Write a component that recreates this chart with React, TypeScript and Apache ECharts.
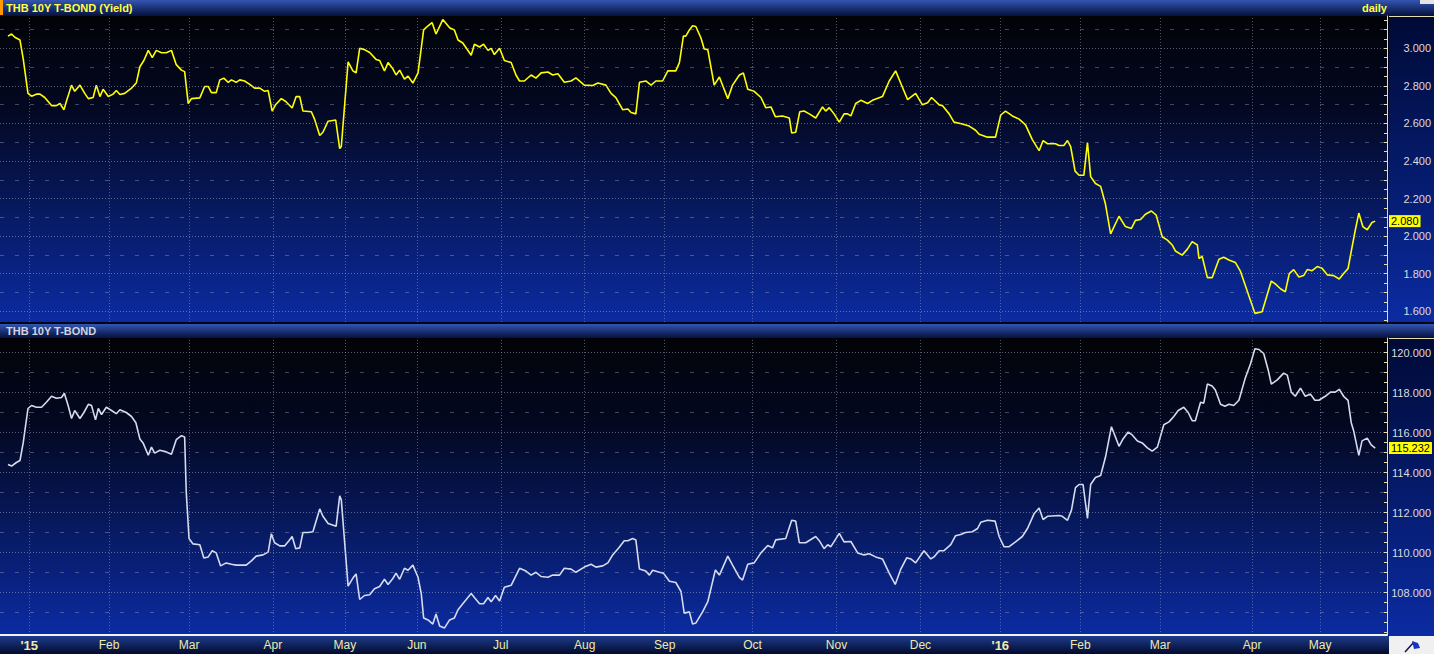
import React, { useEffect, useRef } from 'react';
import * as echarts from 'echarts';

// ---- x axis: trading-day index (0 = first trading day of Jan 2015) ----
const monthStarts = [0, 20, 40, 61, 79, 97, 118, 139, 159, 181, 202, 223, 243, 263, 283, 306, 323];
const monthLabels = ["'15", 'Feb', 'Mar', 'Apr', 'May', 'Jun', 'Jul', 'Aug', 'Sep', 'Oct', 'Nov', 'Dec', "'16", 'Feb', 'Mar', 'Apr', 'May'];
const xRange = [-7.3, 339.75];

// ---- y ticks ----
const yieldMajorTicks = [1.6, 1.8, 2.0, 2.2, 2.4, 2.6, 2.8, 3.0];
const yieldMinorTicks = [1.7, 1.9, 2.1, 2.3, 2.5, 2.7, 2.9, 3.1];
const yieldRange = [1.543, 3.172];
const priceMajorTicks = [108, 110, 112, 114, 116, 118, 120];
const priceMinorTicks = [107, 109, 111, 113, 115, 117, 119];
const priceRange = [105.885, 120.735];

// ---- THB 10Y T-BOND (Yield) ----
const yieldPoints: [number, number][] = [
  [-5.3, 3.065], [-4.4, 3.076], [-3.6, 3.059], [-2.3, 3.044], [-1.5, 2.945], [-0.3, 2.76], [0.6, 2.745], [1.8, 2.756], [2.7, 2.756], [3.9, 2.738],
  [5.6, 2.695], [6.8, 2.695], [7.7, 2.706], [8.7, 2.673], [9.3, 2.717], [10.6, 2.804], [11.4, 2.771], [12.7, 2.804], [13.9, 2.76], [14.8, 2.732],
  [16.0, 2.738], [16.8, 2.804], [17.7, 2.743], [18.5, 2.782], [19.8, 2.743], [21.0, 2.756], [21.8, 2.775], [22.7, 2.754], [23.9, 2.76], [25.6, 2.788],
  [26.8, 2.815], [27.7, 2.902], [28.7, 2.935], [29.8, 2.989], [30.8, 2.95], [31.8, 2.989], [33.1, 2.976], [34.3, 2.976], [35.6, 2.989], [36.8, 2.913],
  [38.1, 2.884], [38.9, 2.876], [39.8, 2.706], [40.6, 2.732], [42.7, 2.736], [43.9, 2.797], [44.8, 2.797], [45.6, 2.764], [46.8, 2.764], [47.7, 2.832],
  [48.7, 2.841], [49.8, 2.819], [50.6, 2.832], [51.8, 2.819], [52.7, 2.832], [53.9, 2.826], [55.2, 2.808], [56.4, 2.788], [57.7, 2.788], [58.9, 2.771],
  [59.8, 2.775], [60.8, 2.666], [61.7, 2.701], [63.1, 2.732], [64.2, 2.717], [65.8, 2.682], [66.8, 2.743], [67.7, 2.743], [68.5, 2.666], [70.6, 2.662],
  [71.4, 2.623], [72.7, 2.536], [73.5, 2.553], [74.8, 2.612], [76.7, 2.618], [77.7, 2.466], [78.1, 2.477], [79.8, 2.928], [81.0, 2.88], [81.8, 2.869],
  [82.7, 3.0], [83.9, 2.993], [85.2, 2.978], [86.8, 2.941], [87.7, 2.935], [88.9, 2.88], [89.8, 2.924], [91.0, 2.891], [91.8, 2.858], [92.7, 2.884],
  [93.9, 2.836], [94.8, 2.852], [96.0, 2.815], [97.3, 2.869], [98.7, 3.098], [99.8, 3.12], [100.8, 3.137], [101.8, 3.076], [103.5, 3.153], [105.2, 3.109],
  [106.4, 3.098], [107.3, 3.044], [108.5, 3.028], [110.6, 2.963], [111.4, 3.022], [112.7, 3.007], [113.7, 3.022], [114.8, 2.989], [115.6, 3.0], [116.4, 2.967],
  [117.7, 3.0], [118.9, 2.935], [120.6, 2.924], [121.8, 2.858], [122.7, 2.826], [123.9, 2.826], [125.6, 2.858], [126.8, 2.841], [128.1, 2.869], [129.8, 2.874],
  [131.0, 2.858], [132.3, 2.865], [133.9, 2.819], [135.6, 2.826], [136.8, 2.843], [138.9, 2.804], [141.0, 2.802], [142.3, 2.815], [144.3, 2.804], [145.6, 2.76],
  [146.8, 2.738], [148.5, 2.673], [149.8, 2.677], [150.6, 2.658], [151.8, 2.651], [152.7, 2.819], [154.3, 2.826], [155.6, 2.804], [156.8, 2.826], [158.5, 2.826],
  [159.8, 2.88], [161.8, 2.88], [162.7, 2.924], [163.7, 3.065], [164.3, 3.065], [165.2, 3.098], [166.0, 3.12], [166.8, 3.116], [168.1, 3.055], [168.9, 2.996],
  [169.8, 2.993], [171.4, 2.804], [172.7, 2.847], [174.8, 2.732], [176.0, 2.804], [177.7, 2.858], [178.7, 2.869], [179.8, 2.782], [181.4, 2.771], [183.1, 2.738],
  [184.3, 2.684], [185.6, 2.688], [186.7, 2.636], [188.5, 2.64], [190.2, 2.629], [190.8, 2.549], [191.8, 2.553], [192.8, 2.662], [193.9, 2.666], [195.2, 2.651],
  [196.8, 2.629], [198.5, 2.688], [199.3, 2.666], [200.2, 2.684], [201.4, 2.651], [202.7, 2.607], [203.9, 2.651], [204.8, 2.651], [205.6, 2.64], [206.8, 2.706],
  [208.1, 2.723], [209.8, 2.706], [211.0, 2.723], [213.5, 2.743], [215.2, 2.826], [216.8, 2.88], [218.5, 2.793], [219.8, 2.727], [221.8, 2.76], [223.5, 2.699],
  [224.8, 2.71], [225.8, 2.738], [227.7, 2.699], [228.5, 2.695], [230.2, 2.651], [231.4, 2.607], [233.5, 2.597], [235.2, 2.586], [236.8, 2.564], [237.7, 2.542],
  [239.8, 2.527], [241.8, 2.527], [243.1, 2.645], [244.3, 2.666], [246.0, 2.64], [247.7, 2.623], [249.3, 2.592], [251.0, 2.514], [252.7, 2.455], [253.7, 2.509],
  [254.8, 2.492], [256.8, 2.492], [257.7, 2.483], [258.9, 2.483], [259.8, 2.509], [260.6, 2.477], [261.7, 2.346], [262.7, 2.324], [263.9, 2.324], [264.8, 2.498],
  [265.6, 2.317], [266.8, 2.28], [268.1, 2.265], [269.3, 2.171], [270.6, 2.012], [272.7, 2.106], [274.3, 2.051], [275.8, 2.041], [276.8, 2.084], [278.1, 2.089],
  [279.3, 2.117], [280.8, 2.134], [282.0, 2.112], [283.5, 1.997], [284.8, 1.979], [286.0, 1.953], [286.8, 1.921], [288.5, 1.899], [289.8, 1.931], [291.0, 1.971],
  [292.3, 1.953], [292.7, 1.881], [293.5, 1.892], [294.8, 1.779], [296.0, 1.779], [297.7, 1.877], [298.9, 1.888], [300.2, 1.873], [301.8, 1.86], [303.1, 1.812],
  [305.2, 1.681], [306.7, 1.589], [308.5, 1.598], [310.8, 1.761], [311.8, 1.746], [313.1, 1.72], [314.3, 1.703], [315.3, 1.801], [316.4, 1.822], [317.7, 1.783],
  [318.9, 1.79], [319.8, 1.822], [321.0, 1.816], [322.3, 1.838], [323.5, 1.829], [324.8, 1.794], [326.4, 1.79], [327.8, 1.772], [328.9, 1.801], [330.0, 1.827],
  [331.0, 1.942], [331.8, 2.03], [332.7, 2.123], [333.7, 2.051], [334.8, 2.034], [336.0, 2.073], [336.8, 2.08],
];

// ---- THB 10Y T-BOND (Price) ----
const pricePoints: [number, number][] = [
  [-5.3, 114.41], [-4.4, 114.33], [-3.2, 114.51], [-2.3, 114.61], [-1.5, 115.49], [-0.3, 117.21], [0.6, 117.36], [1.8, 117.27], [3.1, 117.27], [4.3, 117.52],
  [5.6, 117.82], [6.8, 117.72], [8.1, 117.76], [8.8, 117.97], [9.8, 117.32], [10.6, 116.71], [11.4, 117.11], [12.7, 116.71], [13.7, 117.01], [14.8, 117.42],
  [15.6, 117.36], [16.6, 116.64], [17.3, 117.21], [18.1, 116.91], [19.3, 117.27], [20.6, 117.11], [21.8, 116.95], [22.7, 117.15], [24.3, 117.01], [25.6, 116.81],
  [26.7, 116.5], [27.7, 115.69], [28.5, 115.49], [29.8, 114.87], [30.6, 115.28], [31.4, 114.98], [32.7, 115.12], [34.3, 115.04], [35.6, 114.92], [36.8, 115.65],
  [38.1, 115.85], [38.9, 115.79], [39.3, 113.04], [40.0, 110.71], [41.0, 110.44], [42.7, 110.4], [43.7, 109.73], [44.8, 109.79], [45.8, 110.1], [46.8, 109.99],
  [47.9, 109.34], [49.3, 109.49], [50.6, 109.42], [51.8, 109.38], [54.3, 109.38], [55.6, 109.59], [56.8, 109.83], [58.5, 109.89], [59.8, 110.03], [60.6, 110.95],
  [61.4, 110.5], [62.7, 110.34], [63.9, 110.34], [65.0, 110.6], [65.8, 110.81], [66.7, 110.2], [67.7, 110.24], [68.5, 111.01], [69.8, 111.01], [71.0, 111.05],
  [72.7, 112.19], [73.5, 111.82], [74.8, 111.46], [76.8, 111.32], [77.7, 112.84], [78.1, 112.64], [79.8, 108.33], [81.0, 108.73], [81.8, 108.94], [82.7, 107.66],
  [83.9, 107.86], [85.2, 107.9], [86.4, 108.2], [87.7, 108.31], [88.9, 108.67], [89.8, 108.41], [91.0, 108.71], [91.8, 108.98], [92.7, 108.67], [93.9, 109.22],
  [94.8, 109.12], [96.0, 109.38], [97.3, 108.77], [98.1, 107.96], [98.7, 106.74], [99.8, 106.64], [101.0, 106.43], [101.8, 106.94], [102.7, 106.33], [103.9, 106.23],
  [105.2, 106.64], [106.4, 106.74], [107.3, 107.15], [108.5, 107.45], [110.6, 107.96], [111.4, 107.76], [112.7, 107.45], [113.7, 107.45], [114.8, 107.76], [115.6, 107.55],
  [116.7, 107.86], [117.7, 107.59], [118.9, 108.27], [120.6, 108.37], [122.7, 109.22], [124.3, 109.08], [125.6, 108.88], [126.8, 109.02], [128.1, 108.81], [129.8, 108.77],
  [131.0, 108.88], [132.7, 108.88], [133.9, 109.22], [135.6, 109.18], [136.8, 109.02], [138.9, 109.28], [140.6, 109.42], [141.8, 109.28], [143.5, 109.34], [144.8, 109.49],
  [146.0, 109.89], [147.5, 110.24], [148.9, 110.6], [149.8, 110.6], [151.0, 110.71], [151.8, 110.64], [152.7, 109.18], [154.3, 109.08], [155.2, 108.88], [156.0, 109.12],
  [157.7, 109.02], [158.7, 108.98], [160.2, 108.57], [161.8, 108.51], [163.1, 108.06], [163.9, 106.98], [165.2, 107.04], [166.0, 106.43], [166.8, 106.48], [168.5, 107.04],
  [169.8, 107.55], [171.7, 109.14], [172.7, 108.88], [174.8, 109.83], [176.0, 109.38], [177.7, 108.77], [178.5, 108.63], [179.8, 109.42], [181.4, 109.49], [183.1, 109.99],
  [184.8, 110.36], [186.0, 110.24], [186.8, 110.64], [189.3, 110.71], [190.8, 111.62], [191.8, 111.58], [192.7, 110.5], [194.3, 110.5], [196.8, 110.81], [197.7, 110.6],
  [198.9, 110.2], [199.8, 110.4], [200.6, 110.3], [202.7, 110.97], [203.9, 110.54], [205.6, 110.56], [207.3, 109.99], [208.9, 109.89], [210.2, 109.95], [211.8, 109.79],
  [213.5, 109.69], [215.2, 108.98], [216.7, 108.41], [218.1, 109.18], [219.6, 109.75], [220.6, 109.69], [221.8, 109.49], [223.9, 110.1], [225.6, 109.69], [226.4, 109.79],
  [227.7, 110.1], [228.9, 110.1], [230.6, 110.4], [231.8, 110.85], [233.1, 110.91], [234.3, 111.01], [236.0, 111.05], [237.3, 111.21], [238.1, 111.52], [239.8, 111.62],
  [241.7, 111.58], [242.7, 110.81], [243.9, 110.3], [245.2, 110.3], [246.8, 110.54], [248.5, 110.81], [249.8, 111.21], [251.4, 111.93], [252.7, 112.23], [253.7, 111.66],
  [254.8, 111.82], [257.7, 111.86], [258.5, 111.82], [259.8, 111.62], [260.8, 112.13], [261.8, 113.25], [262.7, 113.41], [263.7, 113.41], [264.8, 111.72], [265.6, 113.41],
  [266.8, 113.76], [268.1, 113.86], [269.3, 114.77], [270.8, 116.3], [272.7, 115.32], [273.7, 115.69], [275.0, 116.03], [276.0, 115.89], [277.3, 115.59], [278.5, 115.49],
  [279.8, 115.24], [281.0, 115.08], [282.3, 115.28], [283.9, 116.4], [285.2, 116.54], [286.4, 116.81], [287.5, 117.11], [288.9, 117.27], [290.0, 117.01], [291.0, 116.6],
  [291.8, 116.6], [293.1, 117.52], [293.9, 117.48], [294.8, 118.43], [296.0, 118.33], [296.8, 118.13], [298.1, 117.42], [299.2, 117.32], [300.2, 117.42], [301.4, 117.36],
  [302.7, 117.62], [304.3, 118.74], [305.6, 119.45], [306.7, 120.2], [307.7, 120.16], [308.9, 119.96], [310.0, 119.15], [310.8, 118.43], [312.3, 118.64], [313.9, 118.98],
  [314.8, 118.88], [315.8, 118.03], [316.8, 117.82], [318.1, 118.23], [319.3, 117.82], [320.6, 117.93], [321.7, 117.62], [322.7, 117.62], [324.3, 117.82], [325.6, 118.03],
  [326.8, 118.03], [327.8, 118.17], [328.9, 117.82], [330.0, 117.62], [330.8, 116.5], [331.4, 116.1], [332.7, 114.87], [333.5, 115.59], [334.8, 115.73], [335.8, 115.39],
  [336.8, 115.232],
];

const FONT = 'Arial, "Liberation Sans", sans-serif';

function stepTicks(from: number, to: number, step: number): number[] {
  const out: number[] = [];
  const n = Math.round((to - from) / step);
  for (let i = 0; i <= n; i++) out.push(+(from + i * step).toFixed(4));
  return out;
}

function panelBg() {
  return new echarts.graphic.LinearGradient(0, 0, 0, 1, [
    { offset: 0, color: '#020308' },
    { offset: 0.3, color: '#030822' },
    { offset: 0.65, color: '#071a62' },
    { offset: 1, color: '#0b2ba2' },
  ]);
}
function axisBg() {
  return new echarts.graphic.LinearGradient(0, 0, 0, 1, [
    { offset: 0, color: '#000a36' },
    { offset: 0.5, color: '#051a6a' },
    { offset: 1, color: '#0b2ba2' },
  ]);
}
function headerBg() {
  return new echarts.graphic.LinearGradient(0, 0, 0, 1, [
    { offset: 0, color: '#3556b0' },
    { offset: 0.5, color: '#1a3278' },
    { offset: 1, color: '#07103a' },
  ]);
}

function gridLinesSeries(axisIdx: number, majors: number[], minors: number[], pts: [number, number][]) {
  const major = { type: [1, 2], color: 'rgba(170,180,205,0.5)', width: 1 };
  const minor = { type: [4, 11], color: 'rgba(160,170,200,0.4)', width: 1 };
  const vert = { type: [1, 2], color: 'rgba(170,180,205,0.45)', width: 1 };
  return {
    type: 'line',
    xAxisIndex: axisIdx,
    yAxisIndex: axisIdx,
    data: pts,
    symbol: 'none',
    lineStyle: { opacity: 0, width: 0 },
    silent: true,
    z: 1,
    markLine: {
      silent: true,
      symbol: ['none', 'none'],
      label: { show: false },
      data: [
        ...majors.map((v) => ({ yAxis: v, lineStyle: major })),
        ...minors.map((v) => ({ yAxis: v, lineStyle: minor })),
        ...monthStarts.map((d) => ({ xAxis: d, lineStyle: vert })),
      ],
    },
  };
}

function lastValueMark(value: number, digits: number) {
  return {
    silent: true,
    symbol: ['none', 'none'],
    lineStyle: { color: 'transparent', width: 0 },
    data: [
      {
        yAxis: value,
        label: {
          show: true,
          position: 'end',
          distance: 2,
          formatter: value.toFixed(digits),
          color: '#000000',
          backgroundColor: '#ffff00',
          fontFamily: FONT,
          fontSize: 11,
          padding: [1, 2, 0, 2],
        },
      },
    ],
  };
}

export default function App() {
  const ref = useRef<HTMLDivElement>(null);
  useEffect(() => {
    if (!ref.current) return;
    const chart = echarts.init(ref.current, undefined, { renderer: 'svg' });
    const W = 1434;
    const plotW = 1389;
    const lastYield = yieldPoints[yieldPoints.length - 1][1];
    const lastPrice = pricePoints[pricePoints.length - 1][1];
    const labelMap: Record<number, string> = {};
    monthStarts.forEach((d, i) => (labelMap[d] = monthLabels[i]));

    const yAxisCommon = {
      type: 'value',
      position: 'right',
      scale: true,
      z: 6,
      splitLine: { show: false },
      axisLine: { show: true, onZero: false, lineStyle: { color: '#e6dcae', width: 1 } },
      axisLabel: {
        color: '#dcdcdc',
        fontSize: 11,
        fontFamily: FONT,
        align: 'right',
        margin: 44,
        formatter: (v: number) => v.toFixed(3),
      },
    };

    const option: any = {
      animation: false,
      backgroundColor: '#000000',
      grid: [
        { left: 0, width: plotW, top: 16, height: 306 },
        { left: 0, width: plotW, top: 338, height: 297 },
      ],
      xAxis: [
        {
          gridIndex: 0,
          type: 'value',
          min: xRange[0],
          max: xRange[1],
          show: true,
          axisLine: { show: false, onZero: false },
          axisTick: { show: false },
          axisLabel: { show: false },
          splitLine: { show: false },
        },
        {
          gridIndex: 1,
          type: 'value',
          min: xRange[0],
          max: xRange[1],
          z: 6,
          axisLine: { show: true, onZero: false, lineStyle: { color: '#f2f2f2', width: 2 } },
          axisTick: { show: false },
          splitLine: { show: false },
          axisLabel: {
            customValues: monthStarts,
            margin: 4,
            color: '#f0eaa8',
            fontSize: 12,
            fontFamily: FONT,
            formatter: (v: number) => {
              const s = labelMap[v] ?? '';
              return s.startsWith("'") ? `{b|${s}}` : s;
            },
            rich: {
              b: { color: '#f0eaa8', fontSize: 13, fontWeight: 'bold', fontFamily: FONT },
            },
          },
        },
      ],
      yAxis: [
        {
          ...yAxisCommon,
          gridIndex: 0,
          min: yieldRange[0],
          max: yieldRange[1],
          axisTick: {
            show: true,
            inside: true,
            length: 3,
            customValues: stepTicks(1.55, 3.15, 0.05),
            lineStyle: { color: '#e6dcae' },
          },
          axisLabel: { ...yAxisCommon.axisLabel, customValues: yieldMajorTicks },
        },
        {
          ...yAxisCommon,
          gridIndex: 1,
          min: priceRange[0],
          max: priceRange[1],
          axisTick: {
            show: true,
            inside: true,
            length: 3,
            customValues: stepTicks(106, 120.5, 0.5),
            lineStyle: { color: '#e6dcae' },
          },
          axisLabel: { ...yAxisCommon.axisLabel, customValues: priceMajorTicks },
        },
      ],
      graphic: [
        // backgrounds
        { type: 'rect', z: -5, shape: { x: 0, y: 0, width: W, height: 16 }, style: { fill: headerBg() } },
        { type: 'rect', z: -5, shape: { x: 0, y: 0, width: 3, height: 15 }, style: { fill: '#ff9a00' } },
        { type: 'rect', z: -5, shape: { x: 1420, y: 0, width: 14, height: 4 }, style: { fill: '#e4e4e4' } },
        { type: 'rect', z: -5, shape: { x: 0, y: 16, width: plotW, height: 306 }, style: { fill: panelBg() } },
        { type: 'rect', z: -5, shape: { x: plotW, y: 16, width: W - plotW, height: 306 }, style: { fill: axisBg() } },
        { type: 'rect', z: -5, shape: { x: 0, y: 322, width: W, height: 2 }, style: { fill: '#000614' } },
        { type: 'rect', z: -5, shape: { x: 0, y: 324, width: W, height: 14 }, style: { fill: headerBg() } },
        { type: 'rect', z: -5, shape: { x: 0, y: 338, width: plotW, height: 297 }, style: { fill: panelBg() } },
        { type: 'rect', z: -5, shape: { x: plotW, y: 338, width: W - plotW, height: 298 }, style: { fill: axisBg() } },
        {
          type: 'rect',
          z: -5,
          shape: { x: 0, y: 636, width: plotW, height: 18 },
          style: {
            fill: new echarts.graphic.LinearGradient(0, 0, 0, 1, [
              { offset: 0, color: '#1d3c8e' },
              { offset: 1, color: '#030a2c' },
            ]),
          },
        },
        { type: 'rect', z: 7, shape: { x: plotW, y: 636, width: W - plotW, height: 18 }, style: { fill: '#f0f0f0' } },
        { type: 'line', z: 7, shape: { x1: plotW, y1: 16.5, x2: W, y2: 16.5 }, style: { stroke: '#e6dcae', lineWidth: 1 } },
        { type: 'line', z: 7, shape: { x1: plotW, y1: 338.5, x2: W, y2: 338.5 }, style: { stroke: '#e6dcae', lineWidth: 1 } },
        // flag icon
        { type: 'line', z: 8, shape: { x1: 1405, y1: 652, x2: 1414, y2: 642 }, style: { stroke: '#0c1450', lineWidth: 1.5 } },
        {
          type: 'polygon',
          z: 8,
          shape: { points: [[1412, 641], [1418, 643], [1420, 648], [1414, 649]] },
          style: { fill: '#1436c8' },
        },
        // header texts
        {
          type: 'text',
          z: 9,
          x: 6,
          y: 8,
          style: { text: 'THB 10Y T-BOND (Yield)', fill: '#ffff3c', font: `bold 11px ${FONT}`, verticalAlign: 'middle' },
        },
        {
          type: 'text',
          z: 9,
          x: 1387,
          y: 8,
          style: { text: 'daily', fill: '#ffff3c', font: `bold 11px ${FONT}`, align: 'right', verticalAlign: 'middle' },
        },
        {
          type: 'text',
          z: 9,
          x: 6,
          y: 331,
          style: { text: 'THB 10Y T-BOND', fill: '#d2d4de', font: `bold 11px ${FONT}`, verticalAlign: 'middle' },
        },
      ],
      series: [
        gridLinesSeries(0, yieldMajorTicks, yieldMinorTicks, yieldPoints),
        gridLinesSeries(1, priceMajorTicks, priceMinorTicks, pricePoints),
        {
          type: 'line',
          name: 'THB 10Y T-BOND (Yield)',
          xAxisIndex: 0,
          yAxisIndex: 0,
          data: yieldPoints,
          symbol: 'none',
          showSymbol: false,
          z: 4,
          lineStyle: { color: '#ffff00', width: 1.6 },
          markLine: lastValueMark(lastYield, 3),
        },
        {
          type: 'line',
          name: 'THB 10Y T-BOND',
          xAxisIndex: 1,
          yAxisIndex: 1,
          data: pricePoints,
          symbol: 'none',
          showSymbol: false,
          z: 4,
          lineStyle: { color: '#d6dbee', width: 1.6 },
          markLine: lastValueMark(lastPrice, 3),
        },
      ],
    };
    chart.setOption(option);
    return () => chart.dispose();
  }, []);
  return (
    <div
      ref={ref}
      style={{ position: 'fixed', left: 0, top: 0, width: 1434, height: 654 }}
    />
  );
}
